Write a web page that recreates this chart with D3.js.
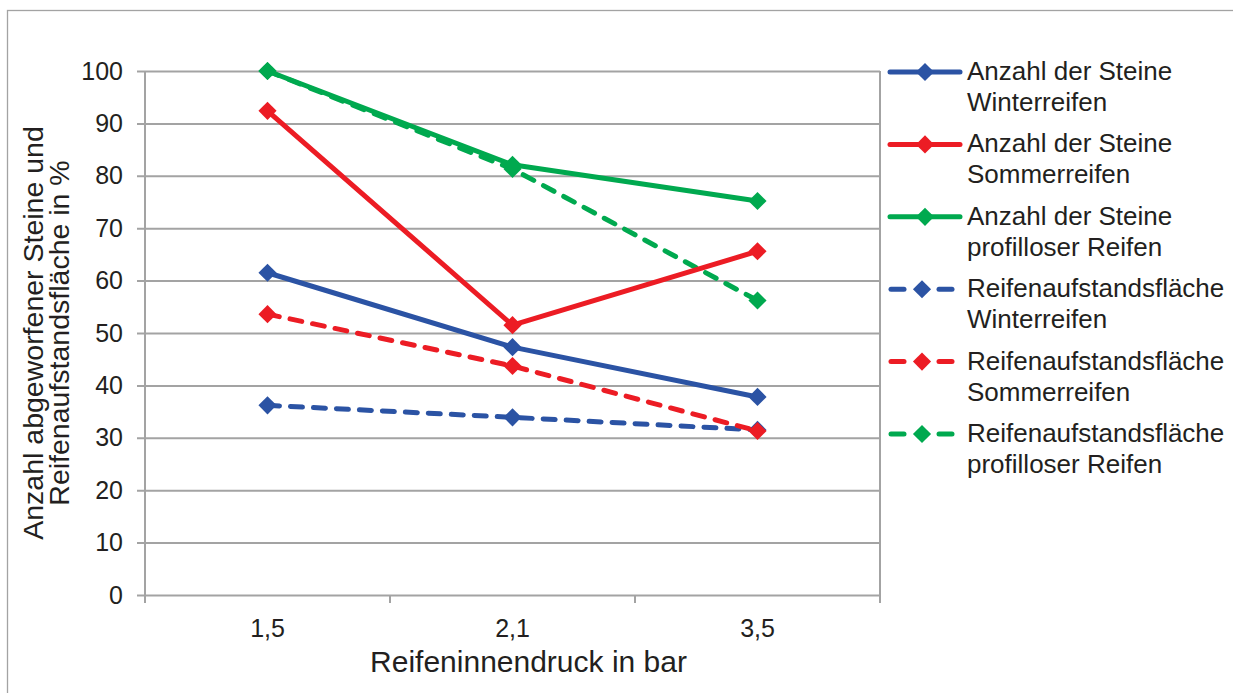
<!DOCTYPE html>
<html>
<head>
<meta charset="utf-8">
<script src="https://cdn.jsdelivr.net/npm/d3@7"></script>
<style>
  html, body { margin: 0; padding: 0; background: #fff; }
  svg { display: block; }
  text { font-family: "Liberation Sans", Arial, Helvetica, sans-serif; fill: #231f20; }
</style>
</head>
<body>
<svg id="chart" width="1233" height="693"></svg>
<script>
// Tyre inflation pressure (bar) on the x axis
const pressures = ["1,5", "2,1", "3,5"];

// Stones thrown (%) per tyre type
const steineWinter   = [61.5, 47.3, 37.8];
const steineSommer   = [92.4, 51.5, 65.6];
const steineProfillos = [100, 82.1, 75.2];

// Tyre contact patch (%) per tyre type
const flaecheWinter   = [36.2, 33.9, 31.5];
const flaecheSommer   = [53.6, 43.7, 31.3];
const flaecheProfillos = [100, 81.3, 56.2];

const yTicks = [0, 10, 20, 30, 40, 50, 60, 70, 80, 90, 100];

const seriesNames = [
  ["Anzahl der Steine", "Winterreifen"],
  ["Anzahl der Steine", "Sommerreifen"],
  ["Anzahl der Steine", "profilloser Reifen"],
  ["Reifenaufstandsfläche", "Winterreifen"],
  ["Reifenaufstandsfläche", "Sommerreifen"],
  ["Reifenaufstandsfläche", "profilloser Reifen"]
];

const BLUE = "#2b53a4", RED = "#ec1c24", GREEN = "#00a94f";
const series = [
  { name: seriesNames[0], values: steineWinter,    color: BLUE,  dashed: false },
  { name: seriesNames[1], values: steineSommer,    color: RED,   dashed: false },
  { name: seriesNames[2], values: steineProfillos, color: GREEN, dashed: false },
  { name: seriesNames[3], values: flaecheWinter,    color: BLUE,  dashed: true },
  { name: seriesNames[4], values: flaecheSommer,    color: RED,   dashed: true },
  { name: seriesNames[5], values: flaecheProfillos, color: GREEN, dashed: true }
];

const svg = d3.select("#chart");
const GRID = "#a3a3a3";
const FONT = "Liberation Sans, Arial, Helvetica, sans-serif";

// outer chart frame
svg.append("rect")
  .attr("x", 7.5).attr("y", 10.5)
  .attr("width", 1300).attr("height", 800)
  .attr("fill", "none").attr("stroke", GRID).attr("stroke-width", 1.3);

const plot = { left: 145, right: 880, top: 71, bottom: 595 };

const x = d3.scaleBand().domain(pressures).range([plot.left, plot.right]);
const y = d3.scaleLinear().domain([0, 100]).range([plot.bottom, plot.top]);

// horizontal gridlines with outward tick stubs
const yAxis = d3.axisLeft(y).tickValues(yTicks)
  .tickSize(-(plot.right - plot.left)).tickSizeOuter(0).tickPadding(22);
const gy = svg.append("g").attr("transform", `translate(${plot.left},0)`).call(yAxis);
gy.select(".domain").remove();
gy.selectAll(".tick line").attr("x1", -8).attr("stroke", GRID).attr("stroke-width", 2);
gy.selectAll(".tick text").attr("font-size", 25).attr("font-family", FONT)
  .style("fill", "#231f20");

// x axis: category boundaries marked below the baseline
const xAxis = d3.axisBottom(x).tickSize(0).tickPadding(24);
const gx = svg.append("g").attr("transform", `translate(0,${plot.bottom})`).call(xAxis);
gx.select(".domain").remove();
gx.selectAll(".tick text").attr("font-size", 25).attr("font-family", FONT)
  .style("fill", "#231f20");

const bounds = pressures.map(p => x(p)).concat([x.range()[1]]);
svg.append("g").selectAll("line").data(bounds).join("line")
  .attr("x1", d => d).attr("x2", d => d)
  .attr("y1", plot.bottom).attr("y2", plot.bottom + 8)
  .attr("stroke", GRID).attr("stroke-width", 2);

// plot-area frame (left and right sides)
svg.append("line").attr("x1", plot.left).attr("x2", plot.left)
  .attr("y1", plot.top).attr("y2", plot.bottom).attr("stroke", GRID).attr("stroke-width", 2);
svg.append("line").attr("x1", plot.right).attr("x2", plot.right)
  .attr("y1", plot.top).attr("y2", plot.bottom + 8).attr("stroke", GRID).attr("stroke-width", 2);

// axis titles
svg.append("text")
  .attr("x", (plot.left + plot.right) / 2 + 16).attr("y", 672)
  .attr("text-anchor", "middle").attr("font-size", 30)
  .text("Reifeninnendruck in bar");

const yTitle = svg.append("text")
  .attr("transform", "translate(0,333) rotate(-90)")
  .attr("text-anchor", "middle").attr("font-size", 28.5);
yTitle.append("tspan").attr("x", 0).attr("y", 43).text("Anzahl abgeworfener Steine und");
yTitle.append("tspan").attr("x", 0).attr("y", 69).text("Reifenaufstandsfläche in %");

// series lines and diamond markers
const cx = i => x(pressures[i]) + x.bandwidth() / 2;
const line = d3.line().x((d, i) => cx(i)).y(d => y(d));
const diamond = d3.symbol().type(d3.symbolDiamond2).size(210);

const drawOrder = [3, 4, 5, 0, 1, 2];
drawOrder.forEach(k => {
  const s = series[k];
  const g = svg.append("g");
  g.append("path")
    .attr("d", line(s.values))
    .attr("fill", "none")
    .attr("stroke", s.color)
    .attr("stroke-width", 5)
    .attr("stroke-linecap", s.dashed ? "round" : "butt")
    .attr("stroke-linejoin", "round")
    .attr("stroke-dasharray", s.dashed ? "12 11" : null);
  g.selectAll("path.m").data(s.values).join("path")
    .attr("class", "m")
    .attr("transform", (d, i) => `translate(${cx(i)},${y(d)})`)
    .attr("d", diamond)
    .attr("fill", s.color);
});

// legend
const legend = svg.append("g");
series.forEach((s, i) => {
  const cy = 72 + i * 72.4;
  const g = legend.append("g").attr("transform", `translate(0,${cy})`);
  let mx = 925;
  if (s.dashed) {
    mx = 922;
    [[891, 904], [939, 952]].forEach(([a, b]) => {
      g.append("line").attr("x1", a).attr("x2", b).attr("y1", 0).attr("y2", 0)
        .attr("stroke", s.color).attr("stroke-width", 5).attr("stroke-linecap", "round");
    });
  } else {
    g.append("line").attr("x1", 890).attr("x2", 960).attr("y1", 0).attr("y2", 0)
      .attr("stroke", s.color).attr("stroke-width", 5).attr("stroke-linecap", "round");
  }
  g.append("path").attr("transform", `translate(${mx},0)`).attr("d", diamond).attr("fill", s.color);
  const t = g.append("text").attr("font-size", 26);
  t.append("tspan").attr("x", 967).attr("y", 8).text(s.name[0]);
  t.append("tspan").attr("x", 967).attr("y", 39).text(s.name[1]);
});
</script>
</body>
</html>
